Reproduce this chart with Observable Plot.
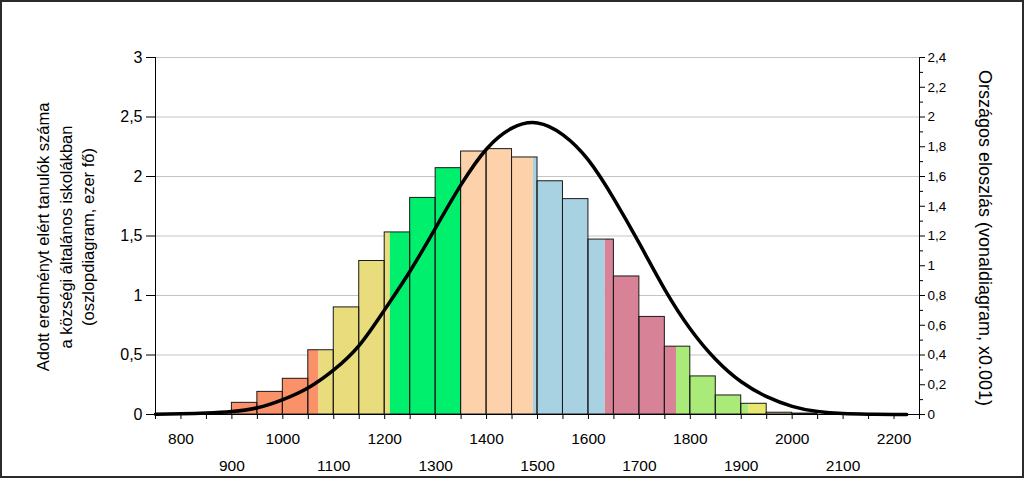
<!DOCTYPE html>
<html>
<head>
<meta charset="utf-8">
<script src="https://cdn.jsdelivr.net/npm/d3@7"></script>
<script src="https://cdn.jsdelivr.net/npm/@observablehq/plot@0.6"></script>
<style>
html, body { margin: 0; padding: 0; background: #fff; }
#wrap { width: 1024px; height: 478px; box-sizing: border-box; border: 2px solid #2b2b2b; overflow: hidden; background: #fff; }
#wrap svg { display: block; }
</style>
</head>
<body>
<div id="wrap"></div>
<script>
// ---- Histogram (left axis, thousand students) ----
const binStarts = [800, 850, 900, 950, 1000, 1050, 1100, 1150, 1200, 1250, 1300, 1350, 1400, 1450, 1500, 1550, 1600, 1650, 1700, 1750, 1800, 1850, 1900, 1950, 2000];
const binValues = [0.010, 0.013, 0.098, 0.19, 0.30, 0.54, 0.90, 1.29, 1.53, 1.82, 2.07, 2.21, 2.23, 2.16, 1.96, 1.81, 1.47, 1.16, 0.82, 0.57, 0.32, 0.16, 0.09, 0.015, 0.008];
const binWidth = 50;

// ---- Level bands that colour the bars ----
const bandEdges = [750, 1071, 1211, 1351, 1492, 1633, 1773, 1915, 1950, 2250];
const bandColors = ["#FA9169", "#E8DC7D", "#00F06E", "#FDD2AA", "#A8D2E1", "#D78296", "#AAEA78", "#E8E86E", "#C2B97C"];

// ---- National distribution curve (right axis, x0.001) ----
const curveScores = [750, 800, 850, 900, 950, 1000, 1050, 1100, 1150, 1200, 1250, 1300, 1350, 1400, 1450, 1500, 1550, 1600, 1650, 1700, 1750, 1800, 1850, 1900, 1950, 2000, 2050, 2100, 2150, 2200, 2225];
const curveValues = [0.002, 0.005, 0.010, 0.020, 0.045, 0.100, 0.180, 0.300, 0.465, 0.705, 0.965, 1.255, 1.545, 1.785, 1.925, 1.960, 1.880, 1.710, 1.450, 1.150, 0.840, 0.575, 0.370, 0.220, 0.120, 0.055, 0.020, 0.006, 0.002, 0.000, 0.000];

// ---- Ticks and labels ----
const leftTicks = [0, 0.5, 1, 1.5, 2, 2.5, 3];
const rightTicks = [0, 0.2, 0.4, 0.6, 0.8, 1, 1.2, 1.4, 1.6, 1.8, 2, 2.2, 2.4];
const rightMinorTicks = [0.1, 0.3, 0.5, 0.7, 0.9, 1.1, 1.3, 1.5, 1.7, 1.9, 2.1, 2.3];
const xLabelsRow1 = [800, 1000, 1200, 1400, 1600, 1800, 2000, 2200];
const xLabelsRow2 = [900, 1100, 1300, 1500, 1700, 1900, 2100];
const xTickMarks = [750, 800, 850, 900, 950, 1000, 1050, 1100, 1150, 1200, 1250, 1300, 1350, 1400, 1450, 1500, 1550, 1600, 1650, 1700, 1750, 1800, 1850, 1900, 1950, 2000, 2050, 2100, 2150, 2200, 2250];
const leftTitle = ["Adott eredményt elért tanulók száma", "a községi általános iskolákban", "(oszlopdiagram, ezer fő)"];
const rightTitle = "Országos eloszlás (vonaldiagram, x0.001)";

const leftMax = 3, rightMax = 2.4;
const k = leftMax / rightMax;

// Build tables
const bars = binStarts.map((x, i) => ({x1: x, x2: x + binWidth, y: binValues[i]}));
const segments = [];
bars.forEach(b => {
  for (let j = 0; j < bandColors.length; j++) {
    const a = Math.max(b.x1, bandEdges[j]), c = Math.min(b.x2, bandEdges[j + 1]);
    if (c > a) segments.push({x1: a, x2: c, y: b.y, color: bandColors[j]});
  }
});
const curve = curveScores.map((x, i) => ({x, v: curveValues[i]}));

const fmt = v => String(+(+v).toFixed(2)).replace(".", ",");

const plot = Plot.plot({
  width: 1020,
  height: 474,
  marginLeft: 153,
  marginRight: 103,
  marginTop: 55,
  marginBottom: 62,
  x: {domain: [750, 2250]},
  y: {domain: [0, leftMax]},
  color: {type: "identity"},
  style: {fontFamily: "'Liberation Sans', Arial, sans-serif", color: "#000", background: "#fff"},
  marks: [
    Plot.ruleY(leftTicks.filter(d => d > 0), {stroke: "#c4c4c4", strokeWidth: 1}),
    Plot.rectY(segments, {x1: "x1", x2: "x2", y: "y", fill: "color"}),
    Plot.rectY(bars, {x1: "x1", x2: "x2", y: "y", fill: "none", stroke: "#1a1a1a", strokeWidth: 1}),
    Plot.line(curve, {x: "x", y: d => d.v * k, stroke: "#000", strokeWidth: 3.5, curve: "natural"}),
    Plot.ruleX([750, 2250], {stroke: "#000", strokeWidth: 1}),
    Plot.ruleY([0], {stroke: "#000", strokeWidth: 1}),
    Plot.axisY({anchor: "left", ticks: leftTicks, tickSize: 9, tickPadding: 4, fontSize: 16, tickFormat: fmt, label: null}),
    Plot.axisY({anchor: "right", ticks: rightTicks.map(v => v * k), tickSize: 5, tickPadding: 3, fontSize: 13.5, tickFormat: d => fmt(d / k), label: null}),
    Plot.axisY({anchor: "right", ticks: rightMinorTicks.map(v => v * k), tickSize: 3, tickFormat: () => "", label: null}),
    Plot.axisX({ticks: xTickMarks, tickSize: 5, tickFormat: () => "", label: null}),
    Plot.axisX({ticks: xLabelsRow1, tickSize: 0, tickPadding: 18, fontSize: 15.5, tickFormat: d => String(d), label: null}),
    Plot.axisX({ticks: xLabelsRow2, tickSize: 0, tickPadding: 45, fontSize: 15.5, tickFormat: d => String(d), label: null})
  ]
});

const svg = d3.select(plot);
const lx = [41, 64, 86];
leftTitle.forEach((t, i) => {
  svg.append("text")
    .attr("transform", `translate(${lx[i]},235) rotate(-90)`)
    .attr("text-anchor", "middle")
    .attr("dominant-baseline", "central")
    .attr("font-size", 16.5)
    .attr("fill", "#000")
    .text(t);
});
svg.append("text")
  .attr("transform", "translate(983,236) rotate(90)")
  .attr("text-anchor", "middle")
  .attr("dominant-baseline", "central")
  .attr("font-size", 18)
  .attr("fill", "#000")
  .text(rightTitle);

document.getElementById("wrap").appendChild(plot);
</script>
</body>
</html>
